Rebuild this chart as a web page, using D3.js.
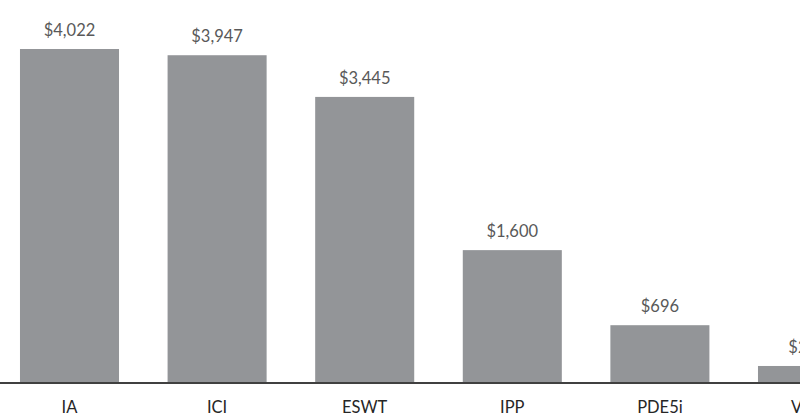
<!DOCTYPE html>
<html><head><meta charset="utf-8">
<script src="https://cdn.jsdelivr.net/npm/d3@7"></script>
<style>body{margin:0;background:#fff}svg{display:block}</style>
</head><body>
<svg id="c" width="800" height="419"></svg>
<script>
const categories = ["IA", "ICI", "ESWT", "IPP", "PDE5i", "VED"];
const values = [4022, 3947, 3445, 1600, 696, 205];
const labels = ["$4,022", "$3,947", "$3,445", "$1,600", "$696", "$205"];

const svg = d3.select("#c");
const baseY = 383;
const x = d3.scaleBand().domain(categories).range([-4.3, -4.3 + 6 * 147.6]).paddingInner(0.329).paddingOuter(0.1645);
const y = d3.scaleLinear().domain([0, 4022]).range([baseY, 49]);

svg.selectAll("rect.bar").data(categories).join("rect")
  .attr("class", "bar")
  .attr("x", d => x(d)).attr("width", x.bandwidth())
  .attr("y", (d, i) => y(values[i])).attr("height", (d, i) => baseY - y(values[i]))
  .attr("fill", "#939598");

svg.selectAll("text.val").data(categories).join("text")
  .attr("class", "val")
  .attr("x", d => x(d) + x.bandwidth() / 2)
  .attr("y", (d, i) => y(values[i]) - 13)
  .attr("text-anchor", "middle")
  .attr("font-family", "Lato, 'Open Sans', sans-serif")
  .attr("font-size", 16.5).attr("fill", "#595959")
  .text((d, i) => labels[i]);

const axis = d3.axisBottom(x).tickSize(0).tickPadding(18);
const g = svg.append("g").attr("transform", `translate(0,${baseY})`).call(axis);
g.select(".domain").remove();
g.selectAll("text").attr("font-family", "Lato, 'Open Sans', sans-serif").attr("font-size", 16.5).attr("fill", "#262626");
svg.append("line").attr("x1", 0).attr("x2", 800).attr("y1", baseY).attr("y2", baseY)
  .attr("stroke", "#404040").attr("stroke-width", 2);
</script>
</body></html>
